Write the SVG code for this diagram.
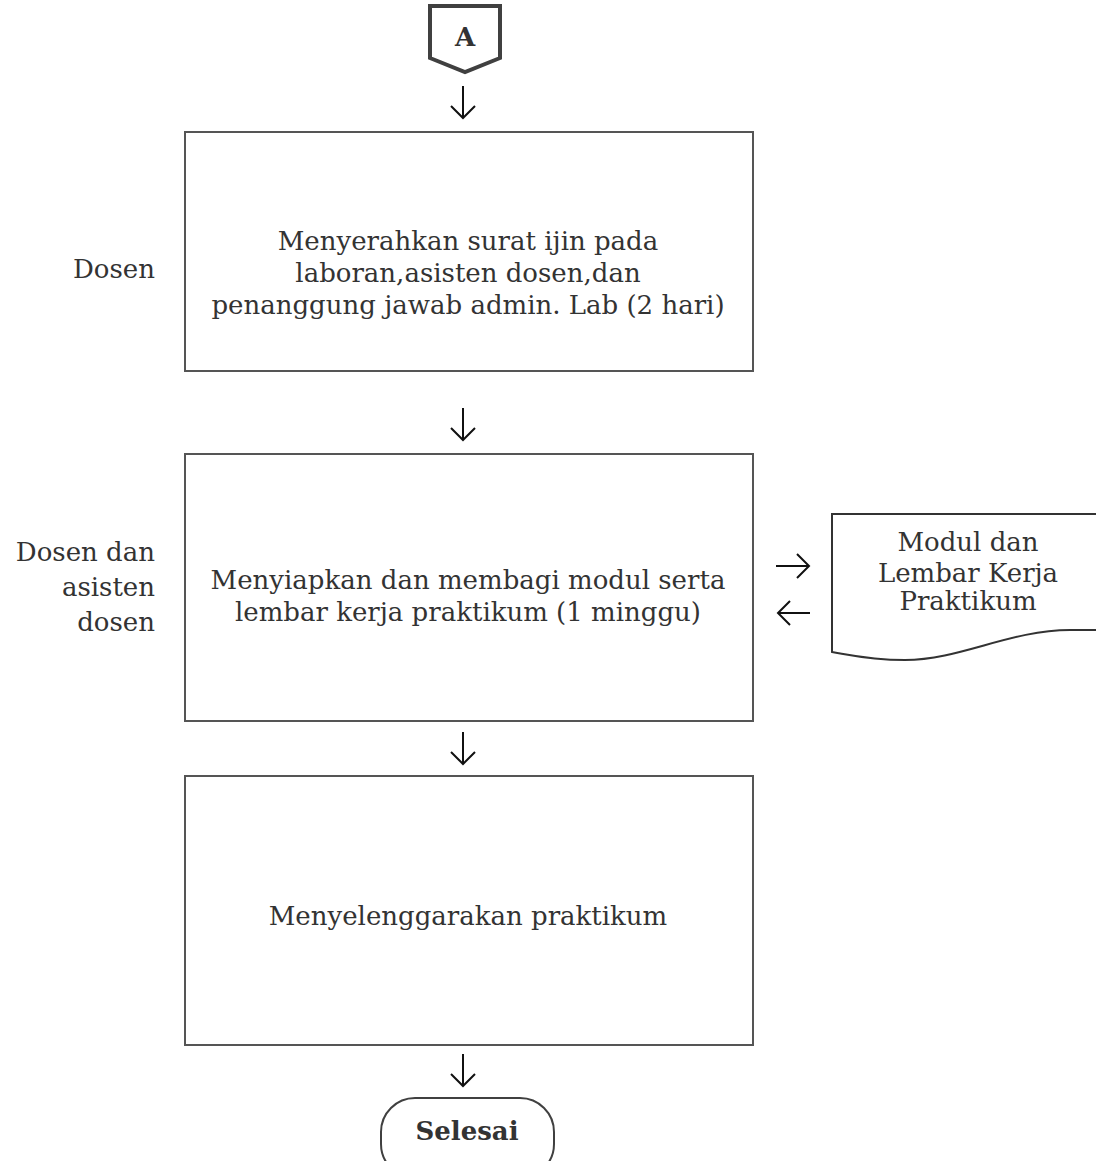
<svg xmlns="http://www.w3.org/2000/svg" width="1096" height="1161" viewBox="0 0 1096 1161">
<style>
.box{fill:#fff;stroke:#555;stroke-width:2}
.t{font-family:"DejaVu Serif","Liberation Serif",serif;font-size:26px;fill:#333}
.tc{text-anchor:middle}
.tr{text-anchor:end}
.b{font-weight:bold}
.arr{fill:none;stroke:#111;stroke-width:2}
</style>
<g id="connectors">
<path class="arr" d="M463 86V118M451 106L463 118L475 106"/>
<path class="arr" d="M463 408V440M451 428L463 440L475 428"/>
<path class="arr" d="M463 732V764M451 752L463 764L475 752"/>
<path class="arr" d="M463 1054V1086M451 1074L463 1086L475 1074"/>
<path class="arr" d="M776 566H808M797 554L809 566L797 578"/>
<path class="arr" d="M778 613H810M790 601L778 613L790 625"/>
</g>
<g id="nodeA">
<path d="M430 6H500V58L465 72L430 58Z" fill="#fff" stroke="#404040" stroke-width="4" stroke-linejoin="miter"/>
<text class="t tc b" x="465" y="46" font-size="23">A</text>
</g>
<g id="lane1">
<text class="t tr" x="155" y="278">Dosen</text>
</g>
<g id="lane2">
<text class="t tr" x="155" y="561">Dosen dan</text>
<text class="t tr" x="155" y="596">asisten</text>
<text class="t tr" x="155" y="631">dosen</text>
</g>
<g id="box1">
<rect class="box" x="185" y="132" width="568" height="239"/>
<text class="t tc" x="468" y="250">Menyerahkan surat ijin pada</text>
<text class="t tc" x="468" y="282">laboran,asisten dosen,dan</text>
<text class="t tc" x="468" y="314">penanggung jawab admin. Lab (2 hari)</text>
</g>
<g id="box2">
<rect class="box" x="185" y="454" width="568" height="267"/>
<text class="t tc" x="468" y="589">Menyiapkan dan membagi modul serta</text>
<text class="t tc" x="468" y="621">lembar kerja praktikum (1 minggu)</text>
</g>
<g id="box3">
<rect class="box" x="185" y="776" width="568" height="269"/>
<text class="t tc" x="468" y="925">Menyelenggarakan praktikum</text>
</g>
<g id="doc">
<path d="M832 514H1098V630H1070C1010 630 960 660 905 660C870 660 850 655 832 652Z" fill="#fff" stroke="#333" stroke-width="2"/>
<text class="t tc" x="968" y="551" font-size="19.5">Modul dan</text>
<text class="t tc" x="968" y="582" font-size="19.5">Lembar Kerja</text>
<text class="t tc" x="968" y="610" font-size="19.5">Praktikum</text>
</g>
<g id="selesai">
<rect x="381" y="1098" width="173" height="80" rx="34" fill="#fff" stroke="#404040" stroke-width="2"/>
<text class="t tc b" x="467" y="1140" font-size="24">Selesai</text>
</g>
</svg>
